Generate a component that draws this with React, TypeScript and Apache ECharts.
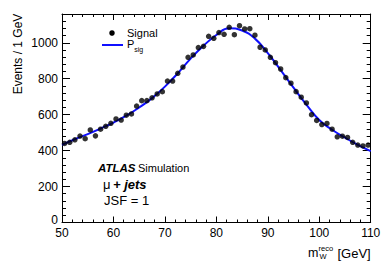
import React, { useEffect, useRef } from "react";
import * as echarts from "echarts";

const binCenters = [
  50.5, 51.5, 52.5, 53.5, 54.5, 55.5, 56.5, 57.5, 58.5, 59.5,
  60.5, 61.5, 62.5, 63.5, 64.5, 65.5, 66.5, 67.5, 68.5, 69.5,
  70.5, 71.5, 72.5, 73.5, 74.5, 75.5, 76.5, 77.5, 78.5, 79.5,
  80.5, 81.5, 82.5, 83.5, 84.5, 85.5, 86.5, 87.5, 88.5, 89.5,
  90.5, 91.5, 92.5, 93.5, 94.5, 95.5, 96.5, 97.5, 98.5, 99.5,
  100.5, 101.5, 102.5, 103.5, 104.5, 105.5, 106.5, 107.5, 108.5, 109.5,
];
const signalValues = [
  440, 446, 460, 481, 466, 515, 482, 519, 535, 552,
  576, 570, 597, 604, 648, 678, 678, 694, 715, 728,
  787, 787, 830, 865, 919, 932, 973, 980, 1036, 1025,
  1057, 1047, 1086, 1045, 1095, 1077, 1078, 1042, 975, 960,
  919, 889, 854, 806, 775, 728, 697, 665, 600, 568,
  545, 551, 519, 477, 480, 473, 446, 431, 426, 431,
];
const fitX = [50, 52.5, 55, 57.5, 60, 62.5, 65, 67.5, 70, 72.5, 75, 77.5, 80, 82.5, 85, 87.5, 90, 92.5, 95, 97.5, 100, 102.5, 105, 107.5, 110];
const fitY = [432, 463, 492, 523, 556, 594, 640, 692, 756, 830, 912, 983, 1043, 1081, 1068, 1023, 942, 848, 750, 656, 570, 516, 472, 432, 397];

const xTicks = [50, 60, 70, 80, 90, 100, 110];
const yTicks = [0, 200, 400, 600, 800, 1000];

const FONT = "'Liberation Sans', Arial, Helvetica, sans-serif";

export default function App() {
  const ref = useRef<HTMLDivElement>(null);
  useEffect(() => {
    if (!ref.current) return;
    const chart = echarts.init(ref.current, null, { renderer: "svg" });
    const left = 62, right = 19.3, top = 14, bottom = 42.5;
    const xMin = xTicks[0], xMax = xTicks[xTicks.length - 1];
    const yMin = yTicks[0], yMax = 1160;
    const yMajor = {
      type: "value", min: yMin, max: yMax, interval: 200,
      axisLine: { show: true, lineStyle: { color: "#000", width: 1 } },
      axisTick: { show: true, inside: true, length: 8, lineStyle: { color: "#000" } },
      splitLine: { show: false },
    };
    const yMinor = {
      type: "value", min: yMin, max: yMax, interval: 40,
      axisLine: { show: false },
      axisTick: { show: true, inside: true, length: 4, lineStyle: { color: "#000" } },
      axisLabel: { show: false },
      splitLine: { show: false },
    };
    const xBase = {
      type: "value", min: xMin, max: xMax, interval: 10,
      axisLine: { show: true, onZero: false, lineStyle: { color: "#000", width: 1 } },
      axisTick: { show: true, inside: true, length: 6, lineStyle: { color: "#000" } },
      minorTick: { show: true, splitNumber: 5, length: 3, lineStyle: { color: "#000" } },
      splitLine: { show: false },
    };
    chart.setOption({
      animation: false,
      grid: { left, right, top, bottom, containLabel: false },
      xAxis: [
        {
          ...xBase, position: "bottom",
          axisLabel: { show: true, color: "#000", fontSize: 12, lineHeight: 11, fontFamily: FONT, margin: 5 },
        },
        { ...xBase, position: "top", axisLabel: { show: false } },
      ],
      yAxis: [
        {
          ...yMajor, position: "left",
          axisLabel: {
            show: true, color: "#000", fontSize: 12, lineHeight: 11, fontFamily: FONT, margin: 4,
            formatter: (v: number) => (yTicks.includes(v) && v !== yMin ? String(v) : ""),
          },
        },
        { ...yMinor, position: "left" },
        { ...yMajor, position: "right", axisLabel: { show: false } },
        { ...yMinor, position: "right" },
      ],
      series: [
        {
          type: "line", name: "P_sig", xAxisIndex: 0, yAxisIndex: 0,
          data: fitX.map((x, i) => [x, fitY[i]]),
          smooth: true, showSymbol: false, symbol: "none",
          lineStyle: { color: "#1010ff", width: 2 }, z: 2,
        },
        {
          type: "scatter", name: "Signal", xAxisIndex: 0, yAxisIndex: 0,
          data: binCenters.map((x, i) => [x, signalValues[i]]),
          symbol: "circle", symbolSize: 5.5,
          itemStyle: { color: "#000" }, z: 3,
        },
      ],
      graphic: [
        {
          type: "text", x: 58, y: 220,
          style: { text: String(yMin), font: `12px ${FONT}`, fill: "#000", align: "right", verticalAlign: "middle" },
        },
        {
          type: "text", x: 18, y: 54, rotation: Math.PI / 2,
          style: { text: "Events / 1 GeV", font: `12px ${FONT}`, fill: "#000", align: "center", verticalAlign: "middle" },
        },
        { type: "circle", shape: { cx: 112, cy: 33, r: 2.75 }, style: { fill: "#000" } },
        {
          type: "text", x: 127, y: 33,
          style: { text: "Signal", font: `11px ${FONT}`, fill: "#000", align: "left", verticalAlign: "middle" },
        },
        { type: "line", shape: { x1: 102, y1: 45, x2: 123, y2: 45 }, style: { stroke: "#1010ff", lineWidth: 2 } },
        {
          type: "text", x: 127, y: 44,
          style: { text: "P", font: `11px ${FONT}`, fill: "#000", align: "left", verticalAlign: "middle" },
        },
        {
          type: "text", x: 134.3, y: 49,
          style: { text: "sig", font: `7px ${FONT}`, fill: "#000", align: "left", verticalAlign: "middle" },
        },
        {
          type: "text", x: 98, y: 168,
          style: { text: "ATLAS", font: `italic bold 11.5px ${FONT}`, fill: "#000", align: "left", verticalAlign: "middle" },
        },
        {
          type: "text", x: 138, y: 168,
          style: { text: "Simulation", font: `11px ${FONT}`, fill: "#000", align: "left", verticalAlign: "middle" },
        },
        {
          type: "text", x: 103, y: 184,
          style: { text: "μ", font: `13px ${FONT}`, fill: "#000", align: "left", verticalAlign: "middle" },
        },
        {
          type: "text", x: 113, y: 184,
          style: { text: "+ jets", font: `italic bold 13px ${FONT}`, fill: "#000", align: "left", verticalAlign: "middle" },
        },
        {
          type: "text", x: 104, y: 200,
          style: { text: "JSF = 1", font: `13px ${FONT}`, fill: "#000", align: "left", verticalAlign: "middle" },
        },
        {
          type: "text", x: 308, y: 253,
          style: { text: "m", font: `12.5px ${FONT}`, fill: "#000", align: "left", verticalAlign: "middle" },
        },
        {
          type: "text", x: 318.5, y: 248.5,
          style: { text: "reco", font: `7.5px ${FONT}`, fill: "#000", align: "left", verticalAlign: "middle" },
        },
        {
          type: "text", x: 319.5, y: 256.5,
          style: { text: "W", font: `7.5px ${FONT}`, fill: "#000", align: "left", verticalAlign: "middle" },
        },
        {
          type: "text", x: 370.7, y: 253,
          style: { text: "[GeV]", font: `13px ${FONT}`, fill: "#000", align: "right", verticalAlign: "middle" },
        },
      ],
    });
    return () => chart.dispose();
  }, []);
  return (
    <div
      ref={ref}
      style={{ position: "absolute", left: 0, top: 0, width: 390, height: 265, background: "#fff" }}
    />
  );
}
